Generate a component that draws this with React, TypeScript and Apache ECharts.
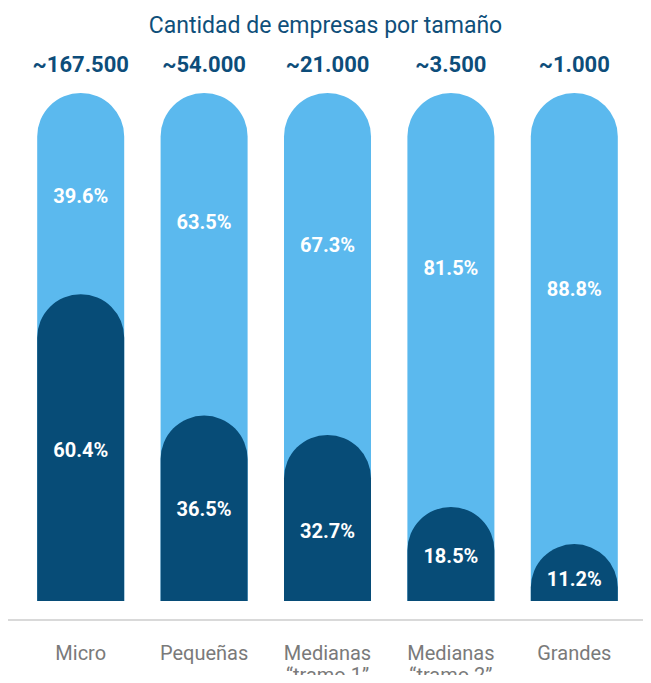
import React, { useEffect, useRef } from "react";
import * as echarts from "echarts";

const categories = ["Micro", "Pequeñas", "Medianas\n“tramo 1”", "Medianas\n“tramo 2”", "Grandes"];
const totals = ["~167.500", "~54.000", "~21.000", "~3.500", "~1.000"];
const darkShare = [60.4, 36.5, 32.7, 18.5, 11.2];
const lightShare = [39.6, 63.5, 67.3, 81.5, 88.8];
const fullBar = [100, 100, 100, 100, 100];

// label nudges (px) to match the reference's hand-placed labels
const lightLabelShift = [2, -32, -19, -32, -30];
const darkLabelShift = [2, 1, 13, 2, 6];

const LIGHT = "#5bb9ee";
const DARK = "#074c77";
const FONT = "Roboto";

export default function App() {
  const ref = useRef<HTMLDivElement>(null);
  useEffect(() => {
    if (!ref.current) return;
    const chart = echarts.init(ref.current, null, { renderer: "svg" });
    const pctLabel = {
      show: true,
      position: "inside",
      formatter: (p: any) => Number(p.value).toFixed(1) + "%",
      fontFamily: FONT,
      fontSize: 20,
      fontWeight: "bold",
      color: "#ffffff",
    };
    chart.setOption({
      animation: false,
      title: {
        text: "Cantidad de empresas por tamaño",
        left: "center",
        top: 9,
        textStyle: { fontFamily: FONT, fontSize: 23, fontWeight: "normal", color: "#0f4f7a" },
      },
      grid: { left: 19, right: 15, top: 93, bottom: 82, containLabel: false, outerBoundsMode: "none" },
      xAxis: {
        type: "category",
        data: categories,
        axisLine: { show: false },
        axisTick: { show: false },
        axisLabel: {
          margin: 41,
          fontFamily: FONT,
          fontSize: 20,
          lineHeight: 22,
          color: "#7a7a7a",
          interval: 0,
          verticalAlign: "top",
        },
      },
      yAxis: { type: "value", min: 0, max: 100, show: false },
      graphic: [
        {
          type: "line",
          shape: { x1: 4, y1: 620, x2: 651, y2: 620 },
          style: { stroke: "#d9d9d9", lineWidth: 2 },
        },
      ],
      series: [
        {
          type: "bar",
          data: fullBar,
          barWidth: 87,
          barGap: "-100%",
          itemStyle: { color: LIGHT, borderRadius: [44, 44, 0, 0] },
          label: {
            show: true,
            position: "top",
            distance: 18,
            formatter: (p: any) => totals[p.dataIndex],
            fontFamily: FONT,
            fontSize: 22,
            fontWeight: "bold",
            color: "#0d4d7a",
          },
          silent: true,
        },
        {
          type: "bar",
          stack: "s",
          data: darkShare.map((v, i) => ({ value: v, label: { offset: [0, darkLabelShift[i]] } })),
          barWidth: 87,
          barGap: "-100%",
          itemStyle: { color: DARK, borderRadius: [44, 44, 0, 0] },
          label: pctLabel,
          silent: true,
        },
        {
          type: "bar",
          stack: "s",
          data: lightShare.map((v, i) => ({ value: v, label: { offset: [0, lightLabelShift[i]] } })),
          barWidth: 87,
          barGap: "-100%",
          itemStyle: { color: "rgba(0,0,0,0)" },
          label: pctLabel,
          silent: true,
        },
      ],
    });
    return () => chart.dispose();
  }, []);
  return <div ref={ref} style={{ width: 651, height: 683, margin: -8 }} />;
}
